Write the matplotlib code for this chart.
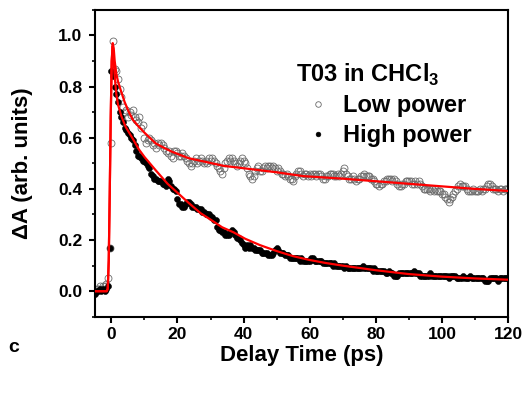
import numpy as np
import matplotlib
matplotlib.use("Agg")
import matplotlib.pyplot as plt
from matplotlib.ticker import MultipleLocator

plt.rcParams['font.family'] = ['Liberation Sans', 'DejaVu Sans']
plt.rcParams['font.weight'] = 'bold'
plt.rcParams['mathtext.fontset'] = 'custom'
plt.rcParams['mathtext.rm'] = 'Liberation Sans'
plt.rcParams['mathtext.bf'] = 'Liberation Sans:bold'

# delay grid of the measurement (ps)
delay = np.round(np.arange(-5, 120.01, 0.5), 1)

low_power = [
    0.00, 0.01, 0.01, 0.02, 0.01, 0.02, 0.02, 0.03, 0.05, 0.17,
    0.58, 0.98, 0.87, 0.86, 0.83, 0.79, 0.76, 0.72, 0.70, 0.71,
    0.68, 0.70, 0.69, 0.71, 0.68, 0.67, 0.66, 0.68, 0.64, 0.65,
    0.60, 0.58, 0.59, 0.60, 0.59, 0.57, 0.58, 0.56, 0.58, 0.57,
    0.58, 0.57, 0.56, 0.55, 0.54, 0.55, 0.53, 0.52, 0.55, 0.55,
    0.54, 0.53, 0.53, 0.54, 0.53, 0.52, 0.51, 0.50, 0.49, 0.50,
    0.51, 0.52, 0.50, 0.51, 0.52, 0.51, 0.50, 0.51, 0.50, 0.52,
    0.51, 0.52, 0.51, 0.50, 0.49, 0.48, 0.47, 0.46, 0.48, 0.50,
    0.51, 0.52, 0.51, 0.52, 0.51, 0.50, 0.49, 0.50, 0.51, 0.52,
    0.51, 0.50, 0.48, 0.46, 0.45, 0.44, 0.45, 0.47, 0.48, 0.49,
    0.47, 0.47, 0.48, 0.49, 0.48, 0.49, 0.49, 0.48, 0.49, 0.48,
    0.47, 0.48, 0.47, 0.46, 0.46, 0.45, 0.46, 0.45, 0.44, 0.44,
    0.43, 0.45, 0.46, 0.47, 0.47, 0.46, 0.45, 0.46, 0.46, 0.45,
    0.46, 0.45, 0.46, 0.46, 0.45, 0.46, 0.46, 0.45, 0.44, 0.44,
    0.45, 0.45, 0.46, 0.46, 0.46, 0.45, 0.45, 0.46, 0.45, 0.46,
    0.47, 0.48, 0.46, 0.45, 0.44, 0.44, 0.45, 0.44, 0.43, 0.44,
    0.44, 0.45, 0.45, 0.46, 0.45, 0.45, 0.45, 0.44, 0.44, 0.43,
    0.42, 0.42, 0.41, 0.42, 0.42, 0.43, 0.43, 0.44, 0.44, 0.44,
    0.43, 0.44, 0.43, 0.42, 0.41, 0.41, 0.42, 0.42, 0.43, 0.43,
    0.43, 0.43, 0.42, 0.42, 0.43, 0.42, 0.43, 0.42, 0.41, 0.40,
    0.40, 0.40, 0.40, 0.39, 0.40, 0.39, 0.40, 0.39, 0.39, 0.39,
    0.38, 0.38, 0.37, 0.36, 0.35, 0.36, 0.37, 0.38, 0.39, 0.40,
    0.41, 0.42, 0.41, 0.41, 0.41, 0.40, 0.39, 0.39, 0.39, 0.40,
    0.39, 0.39, 0.39, 0.40, 0.39, 0.40, 0.40, 0.41, 0.42, 0.42,
    0.41, 0.40, 0.40, 0.40, 0.39, 0.40, 0.40, 0.39, 0.40, 0.40,
    0.40,
]

high_power = [
    -0.01, 0.00, 0.00, 0.01, 0.00, 0.01, 0.00, 0.01, 0.02, 0.17,
    0.86, 0.84, 0.80, 0.77, 0.74, 0.70, 0.68, 0.66, 0.64, 0.63,
    0.62, 0.61, 0.60, 0.59, 0.57, 0.55, 0.53, 0.53, 0.52, 0.51,
    0.51, 0.50, 0.49, 0.48, 0.46, 0.45, 0.44, 0.44, 0.43, 0.43,
    0.43, 0.42, 0.42, 0.41, 0.44, 0.43, 0.41, 0.40, 0.40, 0.39,
    0.36, 0.34, 0.34, 0.33, 0.33, 0.34, 0.35, 0.35, 0.34, 0.33,
    0.33, 0.33, 0.32, 0.32, 0.32, 0.31, 0.31, 0.30, 0.30, 0.30,
    0.29, 0.29, 0.28, 0.28, 0.25, 0.24, 0.24, 0.23, 0.23, 0.22,
    0.22, 0.22, 0.23, 0.24, 0.23, 0.22, 0.21, 0.21, 0.20, 0.19,
    0.18, 0.17, 0.18, 0.17, 0.18, 0.17, 0.17, 0.16, 0.16, 0.16,
    0.16, 0.15, 0.15, 0.15, 0.15, 0.14, 0.14, 0.14, 0.15, 0.16,
    0.17, 0.16, 0.15, 0.15, 0.15, 0.14, 0.14, 0.14, 0.13, 0.13,
    0.13, 0.13, 0.13, 0.13, 0.12, 0.13, 0.12, 0.12, 0.12, 0.12,
    0.12, 0.13, 0.13, 0.12, 0.12, 0.12, 0.12, 0.12, 0.11, 0.11,
    0.11, 0.11, 0.11, 0.11, 0.10, 0.11, 0.10, 0.10, 0.10, 0.10,
    0.10, 0.09, 0.10, 0.09, 0.09, 0.09, 0.09, 0.09, 0.09, 0.09,
    0.09, 0.09, 0.10, 0.09, 0.09, 0.09, 0.09, 0.09, 0.08, 0.09,
    0.08, 0.08, 0.08, 0.08, 0.08, 0.08, 0.07, 0.07, 0.08, 0.07,
    0.07, 0.06, 0.06, 0.06, 0.07, 0.07, 0.07, 0.07, 0.07, 0.07,
    0.07, 0.07, 0.07, 0.08, 0.07, 0.07, 0.07, 0.06, 0.06, 0.06,
    0.06, 0.06, 0.06, 0.07, 0.06, 0.06, 0.06, 0.06, 0.06, 0.06,
    0.06, 0.06, 0.06, 0.06, 0.05, 0.06, 0.06, 0.06, 0.06, 0.05,
    0.05, 0.05, 0.05, 0.06, 0.05, 0.05, 0.05, 0.06, 0.05, 0.05,
    0.05, 0.05, 0.05, 0.05, 0.05, 0.05, 0.04, 0.04, 0.04, 0.05,
    0.05, 0.05, 0.05, 0.05, 0.04, 0.05, 0.05, 0.05, 0.05, 0.05,
    0.05,
]

# fitted curves
low_fit_t = [-5, -1.4, -1.1, -0.8, -0.5, -0.2, 0.1, 0.4, 0.7, 1.0, 1.5, 2.0, 2.8, 4.0,
             5.3, 6.5, 8.3, 10, 13.4, 16, 18.4, 23.4, 28.4, 34, 40.5, 50, 58, 70,
             80, 90, 100, 110, 120]
low_fit = [0, 0, 0.01, 0.12, 0.38, 0.68, 0.90, 0.97, 0.95, 0.90, 0.85, 0.82, 0.787, 0.74,
           0.70, 0.67, 0.643, 0.62, 0.578, 0.56, 0.545, 0.52, 0.506, 0.49, 0.48, 0.465, 0.45, 0.44,
           0.43, 0.42, 0.41, 0.40, 0.392]

high_fit_t = [-5, -1.4, -1.1, -0.8, -0.5, -0.2, 0.1, 0.4, 0.7, 1.0, 1.5, 2.0, 3.0, 4.3,
              6.3, 8.3, 10, 13.4, 17, 20, 23.4, 27, 30, 33.5, 37, 40.5, 45, 50,
              55, 60, 65, 70, 80, 90, 100, 110, 120]
high_fit = [0, 0, 0.01, 0.12, 0.38, 0.68, 0.90, 0.96, 0.90, 0.84, 0.77, 0.73, 0.685, 0.643,
            0.60, 0.555, 0.525, 0.473, 0.42, 0.385, 0.345, 0.305, 0.28, 0.25, 0.23, 0.205, 0.18, 0.157,
            0.137, 0.122, 0.11, 0.10, 0.082, 0.067, 0.057, 0.05, 0.045]

fig = plt.figure(figsize=(5.27, 3.95), dpi=100)
ax = fig.add_axes([0.180, 0.198, 0.784, 0.777])

ax.plot(delay, low_power, 'o', ms=5, mfc='none', mec='#6a6a6a', mew=0.6,
        label='Low power', zorder=2)
ax.plot(delay, high_power, 'o', ms=4.3, mfc='black', mec='black', mew=0.4,
        label='High power', zorder=3)
ax.plot(low_fit_t, low_fit, color='red', lw=1.6, zorder=4)
ax.plot(high_fit_t, high_fit, color='red', lw=1.6, zorder=4)

ax.set_xlim(-5, 120)
ax.set_ylim(-0.1, 1.1)
ax.xaxis.set_major_locator(MultipleLocator(20))
ax.xaxis.set_minor_locator(MultipleLocator(10))
ax.yaxis.set_minor_locator(MultipleLocator(0.1))
ax.set_yticks([0.0, 0.2, 0.4, 0.6, 0.8, 1.0])
ax.set_yticklabels(['0.0', '0.2', '0.4', '0.6', '0.8', '1.0'])

for s in ax.spines.values():
    s.set_linewidth(1.5)
ax.tick_params(which='major', direction='out', length=4.5, width=1.5, labelsize=12.5, pad=4.5)
ax.tick_params(axis='x', which='major', pad=3)
ax.tick_params(which='minor', direction='out', length=2.5, width=1.2)
for lab in ax.get_xticklabels() + ax.get_yticklabels():
    lab.set_fontweight('bold')

ax.set_xlabel('Delay Time (ps)', fontsize=16, fontweight='bold', labelpad=2)
ax.set_ylabel('ΔA (arb. units)', fontsize=16, fontweight='bold', labelpad=18)

ax.text(0.487, 0.788, 'T03 in CHCl$_3$', transform=ax.transAxes, fontsize=17,
        fontweight='bold', va='center', ha='left')
ax.legend(loc='upper left', bbox_to_anchor=(0.478, 0.765), frameon=False,
          fontsize=17, handletextpad=0.45, handlelength=1.2, labelspacing=0.3,
          markerscale=0.8, borderpad=0)
fig.text(0.015, 0.121, 'c', fontsize=14, fontweight='bold', va='center')

fig.savefig('out.png', dpi=100)
